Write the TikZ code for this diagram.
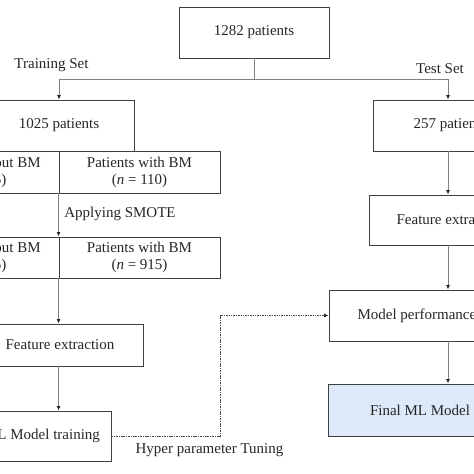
\documentclass[tikz,border=0pt]{standalone}
\usepackage{fontspec}
\setmainfont{Liberation Serif}
\usetikzlibrary{arrows.meta,calc}
\begin{document}
\begin{tikzpicture}[x=1bp,y=-1bp,
  every node/.style={font=\fontsize{15bp}{17bp}\selectfont, text=black!85},
  box/.style={draw=black!75, line width=0.9bp, rectangle, inner sep=0pt, align=center},
  conn/.style={draw=black!50, line width=0.9bp},
  arr/.style={conn, -{Latex[length=4.5bp,width=4bp,black!85]}},
  hyper/.style={draw=black!70, line width=0.9bp, dash pattern=on 1.5bp off 0.9bp, -{Latex[length=4.5bp,width=4bp,black!85]}},
  lbl/.style={inner sep=0pt}
]
\useasboundingbox (0,0) rectangle (474,474);
% boxes
\node[box, minimum width=150bp, minimum height=51bp] (top) at (254,32.5) {1282 patients};
\node[box, minimum width=150bp, minimum height=51bp] (train) at (59,125.5) {1025 patients};
\node[box, minimum width=161bp, minimum height=42bp] (wo1) at (-21.5,172) {Patients without BM\\(\textit{n} = 915)};
\node[box, minimum width=161bp, minimum height=42bp] (w1) at (139.5,172) {Patients with BM\\(\textit{n} = 110)};
\node[box, minimum width=161bp, minimum height=41bp] (wo2) at (-21.5,257.5) {Patients without BM\\(\textit{n} = 915)};
\node[box, minimum width=161bp, minimum height=41bp] (w2) at (139.5,257.5) {Patients with BM\\(\textit{n} = 915)};
\node[box, minimum width=166bp, minimum height=42bp] (fe1) at (60,345) {Feature extraction};
\node[box, minimum width=138bp, minimum height=50bp] (ml) at (42,436) {ML Model training};
\node[box, minimum width=154bp, minimum height=51bp] (test) at (450,125.5) {257 patients};
\node[box, minimum width=164bp, minimum height=50bp] (fe2) at (451,220) {Feature extraction};
\node[box, minimum width=242bp, minimum height=51bp] (mp) at (450,315.5) {Model performance evaluation};
\node[box, fill={rgb,255:red,221;green,233;blue,248}, minimum width=184bp, minimum height=52bp] (final) at (420,410) {Final ML Model};
% labels
\node[lbl] (ltrain) at (51.5,65) {Training Set};
\node[lbl] (ltest) at (440,69) {Test Set};
\node[lbl] (lsmote) at (120,214) {Applying SMOTE};
\node[lbl] (lhyper) at (209.5,450) {Hyper parameter Tuning};
% connectors
\coordinate (split) at (254,79);
\coordinate (sl) at (59,79);
\coordinate (sr) at (448,79);
\draw[conn] (top.south) -- (split);
\draw[conn] (sl) -- (sr);
\draw[arr] (sl) -- (sl |- train.north);
\draw[arr] (sr) -- (sr |- test.north);
\draw[arr] (w1.south west) -- (w1.south west |- w2.north);
\draw[arr] (w2.south west) -- (w2.south west |- fe1.north);
\draw[arr] (w2.south west |- fe1.south) -- (w2.south west |- ml.north);
\draw[arr] (sr |- test.south) -- (sr |- fe2.north);
\draw[arr] (sr |- fe2.south) -- (sr |- mp.north);
\draw[arr] (sr |- mp.south) -- (sr |- final.north);
\coordinate (hc) at (220,315.5);
\draw[hyper] (ml.east) -| (hc) -- (mp.west);
\end{tikzpicture}
\end{document}
